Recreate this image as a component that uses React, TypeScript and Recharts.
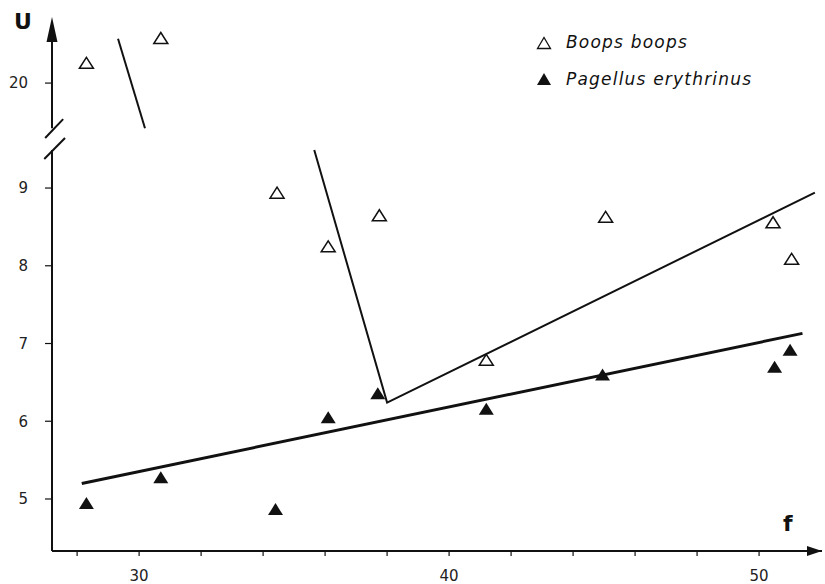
import React from 'react';
import { ScatterChart, Scatter, XAxis, YAxis, ReferenceLine, ReferenceDot } from 'recharts';

// Boops boops (open triangles)
const boopsF = [28.3, 30.7, 34.45, 36.1, 37.75, 41.2, 45.05, 50.45, 51.05];
const boopsU = [20.26, 20.58, 8.94, 8.25, 8.65, 6.79, 8.63, 8.56, 8.09];

// Pagellus erythrinus (filled triangles)
const pagellusF = [28.3, 30.7, 34.4, 36.1, 37.7, 41.2, 44.95, 50.5, 51.0];
const pagellusU = [4.95, 5.28, 4.87, 6.05, 6.36, 6.16, 6.6, 6.7, 6.92];

// drawn lines
const boopsLineF = [35.65, 38.0, 51.8];
const boopsLineU = [9.49, 6.24, 8.94];
const boopsUpperF = [29.32, 30.19];
const boopsUpperU = [20.57, 19.42];
const pagellusLineF = [28.15, 51.4];
const pagellusLineU = [5.2, 7.13];

const xTicks = [28, 30, 32, 34, 36, 38, 40, 42, 44, 46, 48, 50];
const xLabels = [30, 40, 50];
const yTicks = [5, 6, 7, 8, 9, 20];

// broken y axis: values above the break are shifted down
const BREAK_SHIFT = 9.65;
const toPlot = (u: number) => (u > 15 ? u - BREAK_SHIFT : u);
const GAP_LOW = 9.49;
const GAP_HIGH = 9.77;

const X_MIN = 27.19;
const X_MAX = 52.03;
const Y_MIN = 4.331;
const Y_MAX = 11.2;

const pts = (xs: number[], ys: number[]) => xs.map((x, i) => ({ x, y: toPlot(ys[i]) }));

const boopsData = pts(boopsF, boopsU);
const pagellusData = pts(pagellusF, pagellusU);

const ink = '#111';

const OpenTri = (p: any) => (
  <polygon
    points={`${p.cx - 7},${p.cy + 5.5} ${p.cx + 7},${p.cy + 5.5} ${p.cx},${p.cy - 5.5}`}
    fill="#fff"
    stroke={ink}
    strokeWidth={1.5}
  />
);
const FilledTri = (p: any) => (
  <polygon
    points={`${p.cx - 7.5},${p.cy + 6} ${p.cx + 7.5},${p.cy + 6} ${p.cx},${p.cy - 6}`}
    fill={ink}
  />
);
const NoDot = () => <g />;

const UpArrow = (p: any) => (
  <polygon points={`${p.cx},${p.cy} ${p.cx - 5.5},${p.cy + 25} ${p.cx + 5.5},${p.cy + 25}`} fill={ink} />
);
const RightArrow = (p: any) => (
  <polygon points={`${p.cx},${p.cy} ${p.cx - 15},${p.cy - 5} ${p.cx - 15},${p.cy + 5}`} fill={ink} />
);

const tickFont = { fontFamily: 'DejaVu Sans', fontSize: 15, fill: '#222' };
const legendFont: React.CSSProperties = {
  fontFamily: 'DejaVu Sans',
  fontStyle: 'italic',
  fontSize: 17,
  letterSpacing: 1.2,
  color: ink,
  position: 'absolute',
  left: 566,
  lineHeight: '20px',
};

export default function App() {
  return (
    <div style={{ position: 'absolute', left: 0, top: 0, width: 825, height: 584, background: '#fff' }}>
      <ScatterChart width={825} height={584} margin={{ top: 17, right: 3, left: 0, bottom: 0 }}>
        <XAxis
          type="number"
          dataKey="x"
          domain={[X_MIN, X_MAX]}
          allowDataOverflow
          ticks={xTicks}
          interval={0}
          tickFormatter={(v: number) => (xLabels.includes(v) ? String(v) : '')}
          axisLine={{ stroke: ink, strokeWidth: 2 }}
          tickLine={{ stroke: ink, strokeWidth: 1.2 }}
          tickSize={5}
          tickMargin={14}
          tick={tickFont}
          height={33}
        />
        <YAxis
          type="number"
          dataKey="y"
          domain={[Y_MIN, Y_MAX]}
          allowDataOverflow
          ticks={yTicks.map(toPlot)}
          interval={0}
          tickFormatter={(v: number) => String(yTicks[yTicks.map(toPlot).findIndex((t) => Math.abs(t - v) < 1e-6)])}
          axisLine={false}
          tickLine={{ stroke: ink, strokeWidth: 1.2 }}
          tickSize={7}
          tickMargin={17}
          tick={tickFont}
          width={52}
        />
        {/* y axis drawn in two pieces around the break */}
        <ReferenceLine
          segment={[{ x: X_MIN, y: Y_MIN }, { x: X_MIN, y: GAP_LOW }]}
          stroke={ink}
          strokeWidth={2}
          ifOverflow="visible"
        />
        <ReferenceLine
          segment={[{ x: X_MIN, y: GAP_HIGH }, { x: X_MIN, y: Y_MAX - 0.2 }]}
          stroke={ink}
          strokeWidth={2}
          ifOverflow="visible"
        />
        <ReferenceLine
          segment={[{ x: 26.97, y: 9.643 }, { x: 27.55, y: 9.887 }]}
          stroke={ink}
          strokeWidth={2}
          ifOverflow="visible"
        />
        <ReferenceLine
          segment={[{ x: 26.94, y: 9.373 }, { x: 27.61, y: 9.643 }]}
          stroke={ink}
          strokeWidth={2}
          ifOverflow="visible"
        />
        <ReferenceDot x={X_MIN} y={Y_MAX} r={0} shape={UpArrow} ifOverflow="visible" />
        <ReferenceDot x={X_MAX} y={Y_MIN} r={0} shape={RightArrow} ifOverflow="visible" />

        <Scatter
          data={pts(pagellusLineF, pagellusLineU)}
          line={{ stroke: ink, strokeWidth: 3 }}
          shape={NoDot}
          isAnimationActive={false}
        />
        <Scatter
          data={pts(boopsLineF, boopsLineU)}
          line={{ stroke: ink, strokeWidth: 2 }}
          shape={NoDot}
          isAnimationActive={false}
        />
        <Scatter
          data={pts(boopsUpperF, boopsUpperU)}
          line={{ stroke: ink, strokeWidth: 2 }}
          shape={NoDot}
          isAnimationActive={false}
        />
        <Scatter data={boopsData} shape={OpenTri} isAnimationActive={false} />
        <Scatter data={pagellusData} shape={FilledTri} isAnimationActive={false} />
      </ScatterChart>

      <div style={{ position: 'absolute', left: 14, top: 9, fontFamily: 'DejaVu Sans', fontWeight: 'bold', fontSize: 22, color: ink }}>
        U
      </div>
      <div style={{ position: 'absolute', left: 783, top: 511, fontFamily: 'DejaVu Sans', fontWeight: 'bold', fontSize: 22, color: ink }}>
        f
      </div>

      <svg style={{ position: 'absolute', left: 536, top: 36 }} width={16} height={50}>
        <polygon points="1.5,12.5 14.5,12.5 8,1.5" fill="#fff" stroke={ink} strokeWidth={1.3} />
        <polygon points="1,49 15,49 8,37" fill={ink} />
      </svg>
      <div style={{ ...legendFont, top: 32 }}>Boops boops</div>
      <div style={{ ...legendFont, top: 69 }}>Pagellus erythrinus</div>
    </div>
  );
}
